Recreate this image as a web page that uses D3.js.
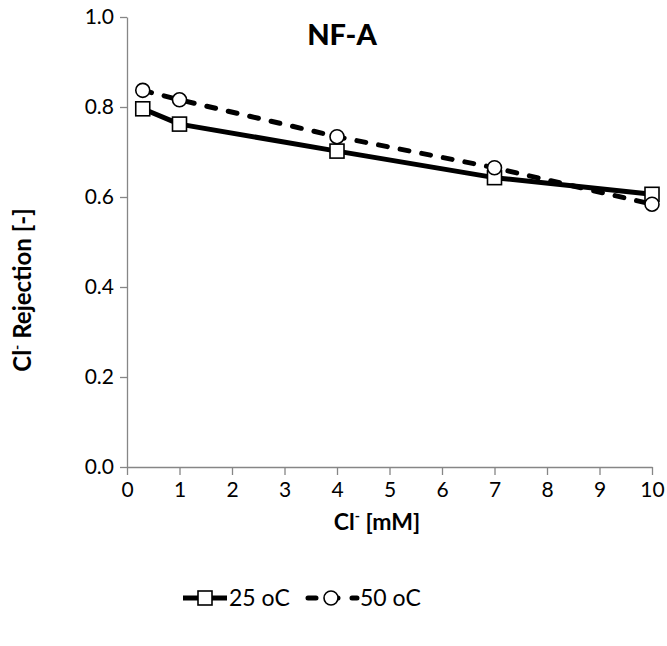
<!DOCTYPE html>
<html>
<head>
<meta charset="utf-8">
<script src="https://cdn.jsdelivr.net/npm/d3@7"></script>
<style>
  body { margin: 0; background: #fff; }
  svg { display: block; font-family: Lato, "Open Sans", sans-serif; }
</style>
</head>
<body>
<svg id="chart" width="667" height="646"></svg>
<script>
// ---- data ----
const chlorideMM = [0.3, 1, 4, 7, 10];
const rejection25 = [0.796, 0.762, 0.702, 0.643, 0.606];
const rejection50 = [0.837, 0.816, 0.734, 0.665, 0.584];
const seriesNames = ["25 oC", "50 oC"];
const xTicks = [0, 1, 2, 3, 4, 5, 6, 7, 8, 9, 10];
const yTicks = [0, 0.2, 0.4, 0.6, 0.8, 1.0];
const chartTitle = "NF-A";

const svg = d3.select("#chart");
const x = d3.scaleLinear().domain([0, 10]).range([127, 652]);
const y = d3.scaleLinear().domain([0, 1]).range([467, 17]);
const axisColor = "#868686";

// axes
const yAxis = svg.append("g").attr("transform", `translate(${x(0)},0)`)
  .call(d3.axisLeft(y).tickValues(yTicks).tickFormat(d3.format(".1f")).tickSizeInner(7).tickSizeOuter(0).tickPadding(6));
const xAxis = svg.append("g").attr("transform", `translate(0,${y(0)})`)
  .call(d3.axisBottom(x).tickValues(xTicks).tickFormat(d3.format("d")).tickSizeInner(8).tickSizeOuter(0).tickPadding(7));
[xAxis, yAxis].forEach(g => {
  g.select(".domain").attr("stroke", axisColor).attr("stroke-width", 1.3);
  g.selectAll(".tick line").attr("stroke", axisColor).attr("stroke-width", 1.3);
  g.selectAll(".tick text").attr("fill", "#000").style("font-size", "21px").style("font-family", "Lato, 'Open Sans', sans-serif");
});

// lines
const series = [
  { name: seriesNames[0], vals: rejection25, dash: null, marker: "square" },
  { name: seriesNames[1], vals: rejection50, dash: "9,13", marker: "circle" }
];
const line = d3.line().x(d => x(d[0])).y(d => y(d[1]));

series.forEach(s => {
  const pts = chlorideMM.map((c, i) => [c, s.vals[i]]);
  const p = svg.append("path").datum(pts).attr("d", line)
    .attr("fill", "none").attr("stroke", "#000").attr("stroke-width", 5)
    .attr("stroke-linejoin", "round");
  if (s.dash) p.attr("stroke-dasharray", s.dash).attr("stroke-linecap", "round");
  const g = svg.append("g");
  if (s.marker === "square") {
    g.selectAll("rect").data(pts).enter().append("rect")
      .attr("x", d => x(d[0]) - 7).attr("y", d => y(d[1]) - 7)
      .attr("width", 14).attr("height", 14)
      .attr("fill", "#fff").attr("stroke", "#000").attr("stroke-width", 1.6);
  } else {
    g.selectAll("circle").data(pts).enter().append("circle")
      .attr("cx", d => x(d[0])).attr("cy", d => y(d[1])).attr("r", 7)
      .attr("fill", "#fff").attr("stroke", "#000").attr("stroke-width", 1.6);
  }
});

// title
svg.append("text").attr("x", 342).attr("y", 45).attr("text-anchor", "middle")
  .style("font-size", "29px").style("font-weight", "900").text(chartTitle);

// axis titles
const yl = svg.append("text").attr("transform", "translate(31,290) rotate(-90)")
  .attr("text-anchor", "middle").style("font-size", "24px").style("font-weight", "bold");
yl.append("tspan").text("Cl");
yl.append("tspan").attr("dy", -9).style("font-size", "14px").text("-");
yl.append("tspan").attr("dy", 9).text(" Rejection [-]");

const xl = svg.append("text").attr("x", 377).attr("y", 530)
  .attr("text-anchor", "middle").style("font-size", "23px").style("font-weight", "bold");
xl.append("tspan").text("Cl");
xl.append("tspan").attr("dy", -9).style("font-size", "14px").text("-");
xl.append("tspan").attr("dy", 9).text(" [mM]");

// legend
const legY = 598;
const legItems = [
  { s: series[0], x0: 183, x1: 227, tx: 229 },
  { s: series[1], x0: 305, x1: 357, tx: 360 }
];
legItems.forEach(it => {
  const g = svg.append("g");
  const l = g.append("line").attr("x1", it.x0).attr("x2", it.x1).attr("y1", legY).attr("y2", legY)
    .attr("stroke", "#000").attr("stroke-width", 5);
  if (it.s.dash) l.attr("stroke-dasharray", "8,14").attr("stroke-dashoffset", -3).attr("stroke-linecap", "round");
  const cx = (it.x0 + it.x1) / 2;
  if (it.s.marker === "square") {
    g.append("rect").attr("x", cx - 7).attr("y", legY - 7).attr("width", 14).attr("height", 14)
      .attr("fill", "#fff").attr("stroke", "#000").attr("stroke-width", 1.6);
  } else {
    g.append("circle").attr("cx", cx).attr("cy", legY).attr("r", 7)
      .attr("fill", "#fff").attr("stroke", "#000").attr("stroke-width", 1.6);
  }
  g.append("text").attr("x", it.tx).attr("y", legY + 8).style("font-size", "23px").text(it.s.name);
});
</script>
</body>
</html>
